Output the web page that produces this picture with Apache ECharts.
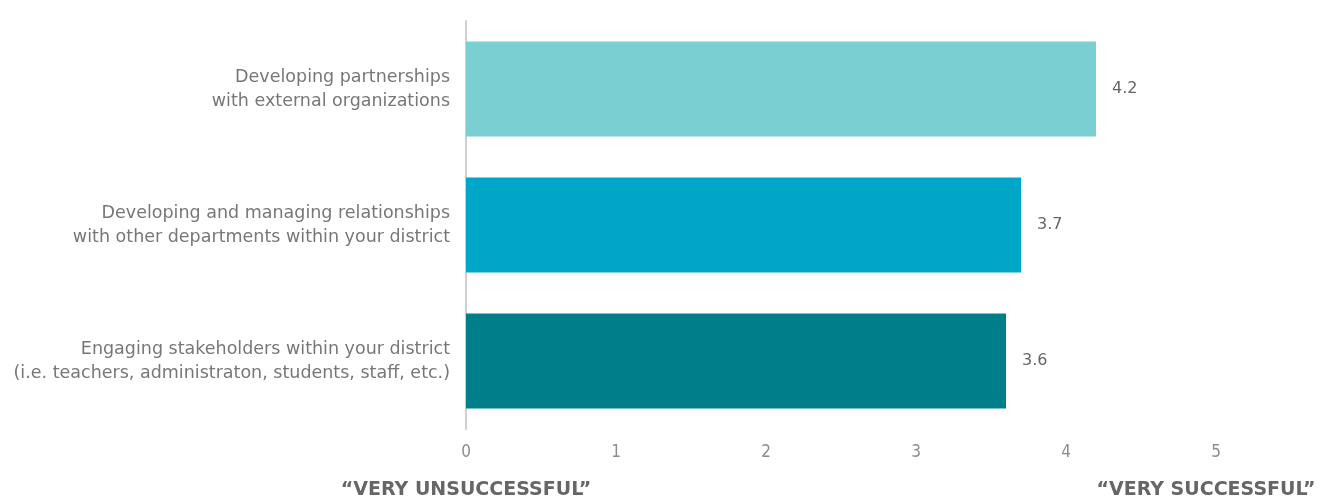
<!DOCTYPE html>
<html>
<head>
<meta charset="utf-8">
<script src="https://cdn.jsdelivr.net/npm/echarts@6/dist/echarts.min.js"></script>
<style>
  html, body { margin: 0; padding: 0; background: #fff; }
  #chart { width: 1330px; height: 499px; }
</style>
</head>
<body>
<div id="chart"></div>
<script>
// Survey items (top to bottom) and their mean ratings on a 0–5 scale
const categories = [
  'Developing partnerships\nwith external organizations',
  'Developing and managing relationships\nwith other departments within your district',
  'Engaging stakeholders within your district\n(i.e. teachers, administraton, students, staff, etc.)'
];
const values = [4.2, 3.7, 3.6];
const barColors = ['#7acfd2', '#00a6c8', '#007f8a'];
const scaleTicks = [0, 1, 2, 3, 4, 5];
const scaleEnds = { 0: '“VERY UNSUCCESSFUL”', 5: '“VERY SUCCESSFUL”' };

const FONT = '"DejaVu Sans", "Open Sans", sans-serif';

const chart = echarts.init(document.getElementById('chart'), null, { renderer: 'canvas' });

chart.setOption({
  animation: false,
  backgroundColor: '#ffffff',
  grid: { left: 466, width: 750, top: 21, height: 408, containLabel: false, outerBoundsMode: 'none' },
  xAxis: {
    type: 'value',
    min: scaleTicks[0],
    max: scaleTicks[scaleTicks.length - 1],
    interval: 1,
    splitLine: { show: false },
    axisLine: { show: false },
    axisTick: { show: false },
    axisLabel: {
      margin: 14,
      formatter: function (v) {
        const cap = scaleEnds[v];
        if (!cap) return '{v|' + v + '}';
        // the right-hand caption sits slightly inward so it stays on the page
        const style = v === scaleTicks[scaleTicks.length - 1] ? 'capR' : 'cap';
        return '{v|' + v + '}\n{' + style + '|' + cap + '}';
      },
      rich: {
        v: { fontFamily: '"Liberation Sans Narrow", "DejaVu Sans Condensed", sans-serif', fontSize: 17, color: '#8c8c8c', lineHeight: 20, align: 'center' },
        cap: { fontFamily: FONT, fontSize: 19, fontWeight: 'bold', color: '#666666', lineHeight: 54, align: 'center', verticalAlign: 'middle' },
        capR: { fontFamily: FONT, fontSize: 19, fontWeight: 'bold', color: '#666666', lineHeight: 54, align: 'center', verticalAlign: 'middle', padding: [0, 20, 0, 0] }
      }
    }
  },
  yAxis: {
    type: 'category',
    data: categories,
    inverse: true,
    axisLine: { show: true, lineStyle: { color: '#cfcfcf', width: 2 } },
    axisTick: { show: false },
    axisLabel: {
      margin: 16,
      fontFamily: FONT,
      fontSize: 17.5,
      lineHeight: 24,
      color: '#777777',
      align: 'right'
    }
  },
  series: [{
    type: 'bar',
    data: values.map((v, i) => ({ value: v, itemStyle: { color: barColors[i] } })),
    barWidth: 95,
    label: {
      show: true,
      position: 'right',
      distance: 16,
      fontFamily: FONT,
      fontSize: 16,
      color: '#666666',
      formatter: p => p.value.toFixed(1)
    }
  }]
});
</script>
</body>
</html>
